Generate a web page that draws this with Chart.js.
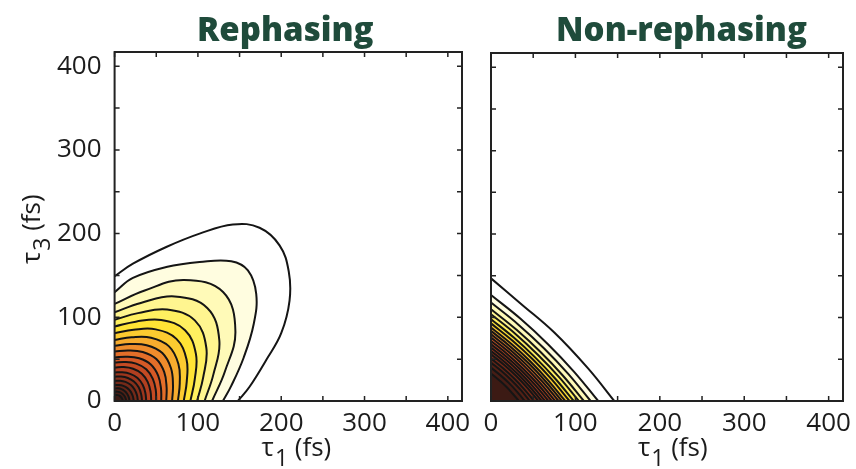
<!DOCTYPE html>
<html><head><meta charset="utf-8">
<script src="https://cdn.jsdelivr.net/npm/chart.js@4"></script>
<style>
html,body{margin:0;padding:0;background:#fff;}
#wrap{position:relative;width:856px;height:469px;overflow:hidden;}
canvas{position:absolute;left:0;top:0;}
</style></head><body>
<div id="wrap"><canvas id="c1" width="856" height="469"></canvas><canvas id="c2" width="856" height="469"></canvas></div>
<script>
// ---------- axis data ----------
const axisMin = 0;
const axisMax = 417;
const tickValues = [0, 50, 100, 150, 200, 250, 300, 350, 400];
const tickLabels = [0, 100, 200, 300, 400];
const panelTitles = ['Rephasing', 'Non-rephasing'];

// ---------- Rephasing contour lines (tau1, tau3 in fs), outer -> inner ----------
const rephC01 = [[0,149],[22,164],[62,184],[102,200],[142,211],[174,207],[198,186],[209,155],[210,120],[200,81],[182,49],[162,17],[148,0]];
const rephC02 = [[0,130],[22,147],[62,160],[102,166],[140,167],[160,156],[170,128],[167,92],[155,52],[140,18],[130,0]];
const rephC03 = [[0,116],[35.3,131.7],[83.5,144.6],[130.2,130.2],[145,83.7],[132.5,35.5],[117,0]];
const rephC04 = [[0,106],[31.4,117.2],[72.1,124.9],[111.2,111.2],[125.7,72.6],[118.6,31.8],[108,0]];
const rephC05 = [[0,97],[28.1,105],[63.1,109.3],[96.3,96.3],[110.1,63.6],[106.4,28.5],[99,0]];
const rephC06 = [[0,89],[25.4,94.8],[55.9,96.9],[84.6,84.6],[97.6,56.3],[96.2,25.8],[91,0]];
const rephC07 = [[0,81],[22.8,85.2],[49.4,85.6],[74.2,74.2],[86.3,49.8],[86.6,23.2],[83,0]];
const rephC08 = [[0,73],[20.4,76.1],[43.7,75.6],[65.3,65.3],[76.6,44.3],[78.2,20.9],[76,0]];
const rephC09 = [[0,66],[18.2,68.1],[38.5,66.7],[57.3,57.3],[67.7,39.1],[70.1,18.8],[69,0]];
const rephC10 = [[0,59],[16.2,60.4],[33.8,58.6],[50.1,50.1],[59.6,34.4],[62.4,16.7],[62,0]];
const rephC11 = [[0,52],[14.2,53],[29.5,51],[43.5,43.5],[52.3,30.2],[55.7,14.9],[56,0]];
const rephC12 = [[0,46],[12.5,46.7],[25.8,44.7],[38,38],[45.9,26.5],[49.4,13.2],[50,0]];
const rephC13 = [[0,40],[10.8,40.5],[22.2,38.5],[32.7,32.7],[39.7,22.9],[43.1,11.5],[44,0]];
const rephC14 = [[0,34],[9.2,34.3],[18.7,32.4],[27.5,27.5],[33.7,19.4],[36.9,9.9],[38,0]];
const rephC15 = [[0,29],[7.8,29.2],[15.9,27.5],[23.2,23.2],[28.7,16.6],[31.8,8.5],[33,0]];
const rephC16 = [[0,24],[6.5,24.2],[13.1,22.8],[19.3,19.3],[24,13.8],[26.8,7.2],[28,0]];
const rephC17 = [[0,19],[5.2,19.2],[10.5,18.1],[15.4,15.4],[19.3,11.2],[21.8,5.9],[23,0]];
const rephC18 = [[0,15],[4,15.1],[8.2,14.2],[12,12],[15,8.7],[17,4.6],[18,0]];
const rephC19 = [[0,11],[3,11.2],[6.1,10.6],[9,9],[11.4,6.6],[13.1,3.5],[14,0]];
const rephC20 = [[0,7],[1.9,7.3],[4,7],[6.1,6.1],[7.8,4.5],[9.2,2.5],[10,0]];

// ---------- Non-rephasing contour lines, outer -> inner ----------
const nonrC01 = [[0,147],[36,116],[75,82],[115,39],[146,0]];
const nonrC02 = [[0,127],[35,98.5],[67.8,67.8],[98.5,35],[127,0]];
const nonrC03 = [[0,118],[32.5,91.5],[63,63],[91.5,32.5],[118,0]];
const nonrC04 = [[0,110],[30.3,85.3],[58.7,58.7],[85.3,30.3],[110,0]];
const nonrC05 = [[0,104],[28.7,80.7],[55.5,55.5],[80.7,28.7],[104,0]];
const nonrC06 = [[0,98],[27,76],[52.3,52.3],[76,27],[98,0]];
const nonrC07 = [[0,93],[25.6,72.2],[49.7,49.7],[72.2,25.6],[93,0]];
const nonrC08 = [[0,88],[24.2,68.2],[47,47],[68.2,24.2],[88,0]];
const nonrC09 = [[0,84],[23.1,65.1],[44.9,44.9],[65.1,23.1],[84,0]];
const nonrC10 = [[0,80],[22,62],[42.7,42.7],[62,22],[80,0]];
const nonrC11 = [[0,76],[20.9,58.9],[40.6,40.6],[58.9,20.9],[76,0]];
const nonrC12 = [[0,72],[19.8,55.8],[38.4,38.4],[55.8,19.8],[72,0]];
const nonrC13 = [[0,68],[18.7,52.7],[36.3,36.3],[52.7,18.7],[68,0]];
const nonrC14 = [[0,64],[17.6,49.6],[34.2,34.2],[49.6,17.6],[64,0]];
const nonrC15 = [[0,60],[16.5,46.5],[32,32],[46.5,16.5],[60,0]];
const nonrC16 = [[0,56],[15.4,43.4],[29.9,29.9],[43.4,15.4],[56,0]];
const nonrC17 = [[0,51],[14,39.5],[27.2,27.2],[39.5,14],[51,0]];
const nonrC18 = [[0,46],[12.7,35.7],[24.6,24.6],[35.7,12.7],[46,0]];
const nonrC19 = [[0,40],[11,31],[21.4,21.4],[31,11],[40,0]];
const nonrC20 = [[0,33],[9,25.5],[17.6,17.6],[25.5,9],[33,0]];

const rephasingContours = [rephC01,rephC02,rephC03,rephC04,rephC05,rephC06,rephC07,rephC08,rephC09,rephC10,
  rephC11,rephC12,rephC13,rephC14,rephC15,rephC16,rephC17,rephC18,rephC19,rephC20];
const nonRephasingContours = [nonrC01,nonrC02,nonrC03,nonrC04,nonrC05,nonrC06,nonrC07,nonrC08,nonrC09,nonrC10,
  nonrC11,nonrC12,nonrC13,nonrC14,nonrC15,nonrC16,nonrC17,nonrC18,nonrC19,nonrC20];

// ---------- styles ----------
const levelColors = ['#ffffff','#fffde0','#fffab8','#fff590','#fff060','#ffe435','#fccb30','#f7ac2e','#ef8c2c','#e36e29',
  '#d55926','#c44a23','#b13f20','#9c361d','#88301b','#752a19','#632517','#532116','#461d15','#3c1a14'];
const lineColor = '#151515';
const textColor = '#1c1c1c';
const titleColor = '#1f4b3b';
const fontFamily = '"Open Sans", "Noto Sans", sans-serif';

// build closed shapes: corner outside plot -> contour -> back, so 'shape' fill covers down to the axes
function buildDatasets(contours) {
  const sets = contours.map((pts, i) => {
    const d = pts.map(p => ({x: p[0], y: p[1]}));
    const f = d[0], s = d[1];
    const slope = (s.y - f.y) / ((s.x - f.x) || 1e-6);
    const topPh = {x: -20, y: f.y - 20 * slope};
    const l = d[d.length - 1], p = d[d.length - 2];
    const t = 20 / Math.max(p.y - l.y, 1e-6);
    const botPh = {x: l.x + (l.x - p.x) * t, y: -20};
    return {
      data: [{x: -6, y: -22}, topPh, ...d, botPh],
      backgroundColor: levelColors[i],
      borderColor: lineColor,
      borderWidth: 2,
      fill: 'shape',
      tension: 0.4,
      pointRadius: 0,
      clip: 0
    };
  });
  return sets.reverse(); // innermost first -> drawn last (on top)
}

function subLabel(ctx, x, y, sub) {
  ctx.textAlign = 'left';
  ctx.textBaseline = 'alphabetic';
  ctx.font = '500 26px ' + fontFamily;
  ctx.fillText('τ', x, y);
  let w = ctx.measureText('τ').width;
  ctx.font = '500 23px ' + fontFamily;
  ctx.fillText(sub, x + w + 1, y + 10);
  w += 1 + ctx.measureText(sub).width;
  ctx.font = '500 26px ' + fontFamily;
  ctx.fillText(' (fs)', x + w, y);
}

function decorPlugin(title, titleDx, showYTitle) {
  return {
    id: 'decor',
    afterDatasetsDraw(chart) {
      const {ctx, chartArea: a, scales: {x, y}} = chart;
      ctx.save();
      ctx.strokeStyle = '#222';
      ctx.lineWidth = 2;
      ctx.strokeRect(a.left, a.top, a.right - a.left, a.bottom - a.top);
      ctx.lineWidth = 1.5;
      ctx.beginPath();
      for (const v of tickValues) {
        const px = x.getPixelForValue(v), py = y.getPixelForValue(v);
        ctx.moveTo(px, a.bottom); ctx.lineTo(px, a.bottom - 5);
        ctx.moveTo(px, a.top); ctx.lineTo(px, a.top + 5);
        ctx.moveTo(a.left, py); ctx.lineTo(a.left + 5, py);
        ctx.moveTo(a.right, py); ctx.lineTo(a.right - 5, py);
      }
      ctx.stroke();
      ctx.restore();
    },
    afterDraw(chart) {
      const {ctx, chartArea: a} = chart;
      ctx.save();
      ctx.fillStyle = titleColor;
      ctx.font = '800 33px ' + fontFamily;
      ctx.textAlign = 'center';
      ctx.textBaseline = 'alphabetic';
      ctx.fillText(title, (a.left + a.right) / 2 + titleDx, 41);
      ctx.fillStyle = textColor;
      subLabel(ctx, a.left + 147, 456, '1');
      if (showYTitle) {
        ctx.translate(40, 264);
        ctx.rotate(-Math.PI / 2);
        subLabel(ctx, 0, 0, '3');
      }
      ctx.restore();
    }
  };
}

function makeChart(id, contours, title, titleDx, pad, yWidth, showYLabels) {
  const tickFont = {family: fontFamily, size: 26, weight: '500'};
  return new Chart(document.getElementById(id), {
    type: 'line',
    data: {datasets: buildDatasets(contours)},
    options: {
      responsive: false,
      animation: false,
      devicePixelRatio: 1,
      events: [],
      layout: {padding: pad},
      elements: {line: {capBezierPoints: false}},
      plugins: {legend: {display: false}, tooltip: {enabled: false}, title: {display: false}},
      scales: {
        x: {
          type: 'linear', position: 'bottom', min: axisMin, max: axisMax,
          grid: {display: false}, border: {display: false},
          afterBuildTicks: s => { s.ticks = tickValues.map(v => ({value: v})); },
          afterFit: s => { s.height = 68; },
          ticks: {
            autoSkip: false, maxRotation: 0, minRotation: 0, padding: -1,
            color: textColor, font: tickFont,
            callback: v => tickLabels.includes(v) ? String(v) : ''
          }
        },
        y: {
          type: 'linear', position: 'left', min: axisMin, max: axisMax,
          grid: {display: false}, border: {display: false},
          afterBuildTicks: s => { s.ticks = tickValues.map(v => ({value: v})); },
          afterFit: s => { s.width = yWidth; },
          ticks: {
            display: showYLabels, autoSkip: false, padding: 5,
            color: textColor, font: tickFont,
            callback: v => tickLabels.includes(v) ? String(v) : ''
          }
        }
      }
    },
    plugins: [decorPlugin(title, titleDx, showYLabels)]
  });
}

makeChart('c1', rephasingContours, panelTitles[0], -3, {left: 0, right: 394, top: 52, bottom: 0}, 114.6, true);
makeChart('c2', nonRephasingContours, panelTitles[1], 14.5, {left: 491, right: 13, top: 53, bottom: 0}, 0, false);
</script>
</body></html>
